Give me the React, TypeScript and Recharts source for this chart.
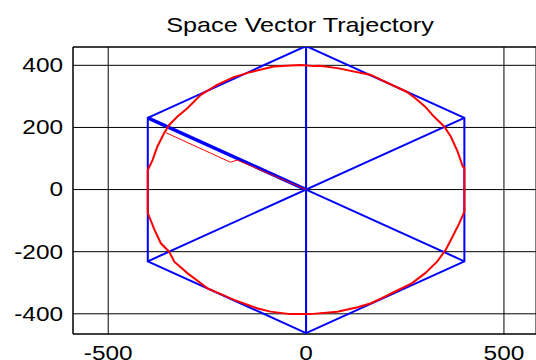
import React from 'react';
import { ScatterChart, Scatter, XAxis, YAxis, CartesianGrid, ReferenceLine } from 'recharts';

const xTicks = [-500, 0, 500];
const yTicks = [-400, -200, 0, 200, 400];

// blue sector hexagon and the three lines through the origin
const hexagon = [
  { x: 0, y: 462 },
  { x: 400, y: 231 },
  { x: 400, y: -231 },
  { x: 0, y: -462 },
  { x: -400, y: -231 },
  { x: -400, y: 231 },
  { x: 0, y: 462 },
];
const spokeVertical = [{ x: 0, y: 462 }, { x: 0, y: -462 }];
const spokeRising = [{ x: -400, y: -231 }, { x: 400, y: 231 }];
const spokeFallingUpper = [{ x: -400, y: 231 }, { x: 0, y: 0 }];
const spokeFallingLower = [{ x: 0, y: 0 }, { x: 400, y: -231 }];

// red trajectory: start-up part, then the steady circle
const startupPath = [
  { x: 0, y: 0 },
  { x: -88, y: 48 },
  { x: -174, y: 95 },
  { x: -191, y: 88 },
  { x: -354, y: 183 },
];

const steadyPath = [
  { x: 400, y: -71 },
  { x: 400, y: 0 },
  { x: 400, y: 70 },
  { x: 396, y: 74 },
  { x: 383, y: 122 },
  { x: 366, y: 170 },
  { x: 349, y: 203 },
  { x: 323, y: 235 },
  { x: 301, y: 267 },
  { x: 276, y: 294 },
  { x: 254, y: 315 },
  { x: 190, y: 353 },
  { x: 164, y: 369 },
  { x: 79, y: 391 },
  { x: 35, y: 399 },
  { x: 19, y: 398 },
  { x: -15, y: 401 },
  { x: -82, y: 396 },
  { x: -141, y: 378 },
  { x: -183, y: 362 },
  { x: -225, y: 337 },
  { x: -266, y: 305 },
  { x: -300, y: 262 },
  { x: -325, y: 235 },
  { x: -346, y: 208 },
  { x: -359, y: 181 },
  { x: -376, y: 138 },
  { x: -388, y: 95 },
  { x: -400, y: 63 },
  { x: -400, y: 0 },
  { x: -400, y: -76 },
  { x: -383, y: -130 },
  { x: -367, y: -173 },
  { x: -346, y: -200 },
  { x: -333, y: -232 },
  { x: -300, y: -269 },
  { x: -249, y: -318 },
  { x: -182, y: -355 },
  { x: -124, y: -382 },
  { x: -90, y: -393 },
  { x: -40, y: -401 },
  { x: 10, y: -401 },
  { x: 79, y: -393 },
  { x: 130, y: -379 },
  { x: 164, y: -366 },
  { x: 190, y: -350 },
  { x: 224, y: -329 },
  { x: 267, y: -302 },
  { x: 301, y: -269 },
  { x: 331, y: -232 },
  { x: 353, y: -194 },
  { x: 370, y: -152 },
  { x: 387, y: -109 },
  { x: 400, y: -71 },
];

const FONT = '"Liberation Sans", Arial, sans-serif';

const NoDot = () => <g />;

const YTick = (props: any) => {
  const { x, y, payload } = props;
  return (
    <text
      transform={`translate(${x},${y}) scale(1.25,1)`}
      textAnchor="end"
      dy="0.355em"
      fontSize={19.5}
      fontFamily={FONT}
      fill="#000"
    >
      {payload.value}
    </text>
  );
};

const XTick = (props: any) => {
  const { x, y, payload } = props;
  return (
    <text
      transform={`translate(${x},${y}) scale(1.25,1)`}
      textAnchor="middle"
      dy="0.71em"
      fontSize={19.5}
      fontFamily={FONT}
      fill="#000"
    >
      {payload.value}
    </text>
  );
};

export default function App() {
  return (
    <div style={{ position: 'absolute', left: 0, top: 0, width: 536, height: 360, overflow: 'hidden', background: '#fff' }}>
      <div
        style={{
          position: 'absolute',
          left: 300,
          top: 14,
          transform: 'translateX(-50%) scaleX(1.2)',
          fontSize: 21,
          lineHeight: '21px',
          fontFamily: FONT,
          whiteSpace: 'nowrap',
          color: '#000',
        }}
      >
        Space Vector Trajectory
      </div>
      <ScatterChart width={536} height={360} margin={{ top: 47, right: 0, bottom: 0, left: 0 }}>
        <CartesianGrid stroke="#000" strokeWidth={1} />
        <XAxis
          type="number"
          dataKey="x"
          domain={[-589, 581]}
          allowDataOverflow
          ticks={xTicks}
          height={26}
          tickLine={false}
          tickSize={0}
          tickMargin={12}
          axisLine={{ stroke: '#000' }}
          tick={<XTick />}
        />
        <YAxis
          type="number"
          dataKey="y"
          domain={[-465, 459]}
          allowDataOverflow
          ticks={yTicks}
          width={73}
          tickLine={false}
          tickSize={0}
          tickMargin={10}
          axisLine={{ stroke: '#000' }}
          tick={<YTick />}
        />
        <ReferenceLine y={459} stroke="#000" />
        <Scatter data={hexagon} line={{ stroke: '#0000ff', strokeWidth: 2 }} shape={NoDot} isAnimationActive={false} />
        <Scatter data={spokeVertical} line={{ stroke: '#0000ff', strokeWidth: 2 }} shape={NoDot} isAnimationActive={false} />
        <Scatter data={spokeRising} line={{ stroke: '#0000ff', strokeWidth: 2 }} shape={NoDot} isAnimationActive={false} />
        <Scatter data={spokeFallingUpper} line={{ stroke: '#0000ff', strokeWidth: 3.5 }} shape={NoDot} isAnimationActive={false} />
        <Scatter data={spokeFallingLower} line={{ stroke: '#0000ff', strokeWidth: 2 }} shape={NoDot} isAnimationActive={false} />
        <Scatter data={startupPath} line={{ stroke: '#ff0000', strokeWidth: 1 }} shape={NoDot} isAnimationActive={false} />
        <Scatter data={steadyPath} line={{ stroke: '#ff0000', strokeWidth: 2 }} shape={NoDot} isAnimationActive={false} />
      </ScatterChart>
    </div>
  );
}
